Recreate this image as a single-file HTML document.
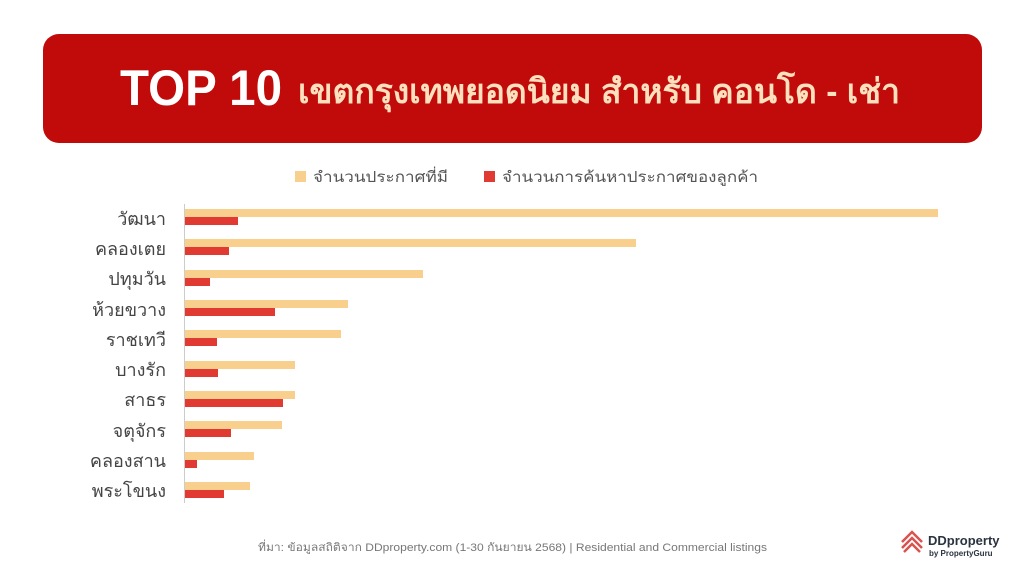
<!DOCTYPE html>
<html><head><meta charset="utf-8"><style>
html,body{margin:0;padding:0;background:#fff;width:1024px;height:576px;overflow:hidden}
svg{display:block}
text{font-family:"Liberation Sans","DejaVu Sans",sans-serif}
</style></head><body>
<svg width="1024" height="576" viewBox="0 0 1024 576">
<rect x="43" y="34" width="939" height="109" rx="16" fill="#c10a0a"/>
<text x="120" y="105" font-size="50" font-weight="bold" fill="#fff" textLength="162" lengthAdjust="spacingAndGlyphs">TOP 10</text>
<text x="298" y="103" font-size="34" font-weight="bold" fill="#fde0bd" textLength="602" lengthAdjust="spacingAndGlyphs">เขตกรุงเทพยอดนิยม สำหรับ คอนโด - เช่า</text>
<rect x="295" y="171" width="11" height="11" fill="#f8cf8c"/>
<text x="313" y="182" font-size="15" fill="#555" textLength="135" lengthAdjust="spacingAndGlyphs">จำนวนประกาศที่มี</text>
<rect x="484" y="171" width="11" height="11" fill="#e03a32"/>
<text x="502" y="182" font-size="15" fill="#555" textLength="256" lengthAdjust="spacingAndGlyphs">จำนวนการค้นหาประกาศของลูกค้า</text>
<line x1="184.5" y1="204" x2="184.5" y2="503" stroke="#ccc" stroke-width="1"/>
<g font-size="18" fill="#444" text-anchor="end">
<text x="166" y="225">วัฒนา</text>
<text x="166" y="255">คลองเตย</text>
<text x="166" y="285">ปทุมวัน</text>
<text x="166" y="316">ห้วยขวาง</text>
<text x="166" y="346">ราชเทวี</text>
<text x="166" y="376">บางรัก</text>
<text x="166" y="406">สาธร</text>
<text x="166" y="437">จตุจักร</text>
<text x="166" y="467">คลองสาน</text>
<text x="166" y="497">พระโขนง</text>
</g>
<g fill="#f8cf8c">
<rect x="185" y="209" width="753" height="8"/>
<rect x="185" y="239" width="451" height="8"/>
<rect x="185" y="270" width="238" height="8"/>
<rect x="185" y="300" width="163" height="8"/>
<rect x="185" y="330" width="156" height="8"/>
<rect x="185" y="361" width="110" height="8"/>
<rect x="185" y="391" width="110" height="8"/>
<rect x="185" y="421" width="97" height="8"/>
<rect x="185" y="452" width="69" height="8"/>
<rect x="185" y="482" width="65" height="8"/>
</g>
<g fill="#e03a32">
<rect x="185" y="217" width="53" height="8"/>
<rect x="185" y="247" width="44" height="8"/>
<rect x="185" y="278" width="25" height="8"/>
<rect x="185" y="308" width="90" height="8"/>
<rect x="185" y="338" width="32" height="8"/>
<rect x="185" y="369" width="33" height="8"/>
<rect x="185" y="399" width="98" height="8"/>
<rect x="185" y="429" width="46" height="8"/>
<rect x="185" y="460" width="12" height="8"/>
<rect x="185" y="490" width="39" height="8"/>
</g>
<text x="258" y="551" font-size="11" fill="#777" textLength="509" lengthAdjust="spacingAndGlyphs">ที่มา: ข้อมูลสถิติจาก DDproperty.com (1-30 กันยายน 2568) | Residential and Commercial listings</text>
<g fill="none" stroke="#d9534f" stroke-width="2.5">
<path d="M902 548 L912 538 L922 548"/>
<path d="M902 542 L912 532 L922 542"/>
<path d="M904 552 L912 544 L920 552"/>
</g>
<text x="928" y="545" font-size="13" font-weight="bold" fill="#2b3340">DDproperty</text>
<text x="929" y="556" font-size="8" font-weight="bold" fill="#2b3340">by PropertyGuru</text>
</svg>
</body></html>
